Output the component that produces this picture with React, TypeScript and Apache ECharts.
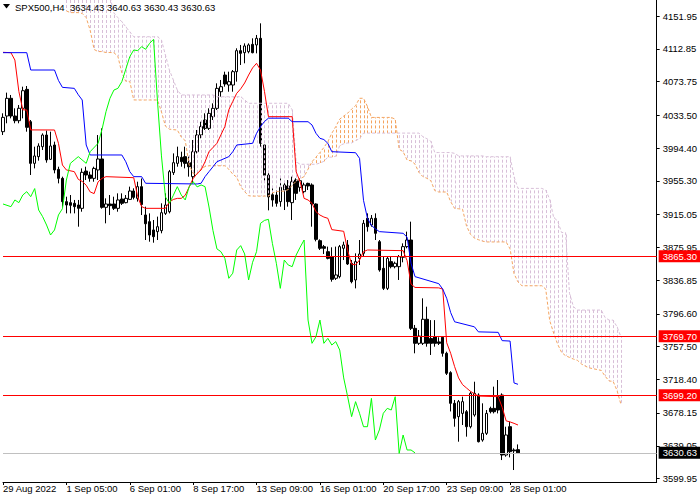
import React, { useEffect, useRef } from "react";
import * as echarts from "echarts";

const SYMBOL = "SPX500,H4";
const SLOT_COUNT = 166;
const TICK_INDEX = [0, 16, 32, 48, 64, 80, 96, 112, 128];
const TICK_LABELS = ["29 Aug 2022", "1 Sep 05:00", "6 Sep 01:00", "8 Sep 17:00", "13 Sep 09:00", "16 Sep 01:00", "20 Sep 17:00", "23 Sep 09:00", "28 Sep 01:00"];
const PRICE_TICKS = [4151.95, 4112.85, 4073.75, 4033.5, 3994.4, 3955.3, 3915.05, 3875.95, 3836.85, 3796.6, 3757.5, 3718.4, 3678.15, 3639.05, 3599.95];
const PRICE_MIN = 3595.8;
const PRICE_MAX = 4171.05;
const RED_LEVELS = [3865.3, 3769.7, 3699.2];
const BID = 3630.63;

// [open, high, low, close]
const candles: number[][] = [
  [4013.9, 4035.8, 4009.9, 4031.0], [4032.6, 4060.5, 4023.9, 4053.7], [4053.7, 4057.7, 4029.8, 4032.6], [4032.6, 4041.8, 4023.9, 4027.0],
  [4027.0, 4045.7, 4023.9, 4041.8], [4041.8, 4067.6, 4029.8, 4062.8], [4064.4, 4068.4, 4013.9, 4019.1], [4025.8, 4027.8, 3962.2, 3976.1],
  [3976.1, 3996.0, 3970.1, 3984.9], [3984.1, 4000.0, 3979.3, 3996.8], [3996.0, 4011.9, 3992.0, 4009.9], [4009.9, 4015.1, 3976.9, 3980.1],
  [3980.9, 4013.9, 3980.1, 3996.8], [3998.0, 4002.0, 3964.2, 3968.2], [3968.9, 3972.1, 3952.2, 3958.2], [3958.2, 3960.2, 3924.4, 3930.4],
  [3930.4, 3936.3, 3916.4, 3926.4], [3929.2, 3938.3, 3916.4, 3926.0], [3928.4, 3932.4, 3916.4, 3924.4], [3926.4, 3932.4, 3900.5, 3922.4],
  [3922.4, 3970.1, 3918.4, 3965.4], [3966.9, 3972.1, 3956.2, 3962.2], [3962.2, 3966.2, 3954.2, 3958.2], [3958.2, 3972.1, 3954.2, 3970.1],
  [3968.2, 4009.9, 3956.2, 3981.3], [3981.3, 4017.9, 3922.0, 3923.6], [3923.6, 3934.3, 3904.5, 3927.6], [3927.6, 3938.3, 3914.4, 3925.6],
  [3927.6, 3936.3, 3920.4, 3922.4], [3922.4, 3940.3, 3918.4, 3932.4], [3933.5, 3940.3, 3926.4, 3928.4], [3929.2, 3938.3, 3928.4, 3934.3],
  [3933.1, 3948.3, 3932.4, 3943.1], [3943.1, 3946.3, 3933.1, 3935.5], [3934.3, 3954.2, 3930.4, 3948.3], [3948.3, 3958.0, 3914.4, 3927.0],
  [3914.5, 3924.4, 3884.6, 3904.0], [3906.5, 3916.4, 3882.6, 3890.6], [3896.6, 3908.5, 3881.4, 3888.6], [3894.6, 3912.5, 3884.6, 3900.5],
  [3895.8, 3928.4, 3892.6, 3917.2], [3916.4, 3940.3, 3914.5, 3926.4], [3918.4, 3968.2, 3916.4, 3966.2], [3965.0, 3988.0, 3962.2, 3976.9],
  [3976.1, 3996.0, 3972.1, 3984.1], [3983.3, 3990.0, 3972.1, 3978.1], [3984.1, 3996.0, 3970.1, 3976.1], [3976.9, 3984.1, 3960.2, 3972.1],
  [3960.2, 4004.0, 3952.2, 3990.0], [3990.0, 4015.9, 3988.0, 4009.9], [4010.0, 4025.8, 4006.0, 4020.0], [4027.8, 4035.8, 4015.9, 4017.9],
  [4017.9, 4041.8, 4015.9, 4035.8], [4031.8, 4047.7, 4027.8, 4041.8], [4041.8, 4071.6, 4039.8, 4065.6], [4061.6, 4075.6, 4055.7, 4067.6],
  [4081.5, 4085.5, 4067.6, 4070.8], [4069.6, 4085.5, 4061.6, 4073.6], [4069.6, 4087.5, 4061.6, 4085.5], [4085.5, 4113.4, 4073.6, 4110.6],
  [4110.6, 4117.4, 4093.5, 4107.4], [4108.2, 4119.3, 4095.5, 4116.2], [4109.4, 4119.3, 4107.4, 4117.4], [4118.1, 4125.3, 4107.4, 4108.2],
  [4117.4, 4129.3, 4107.4, 4125.3], [4125.3, 4143.2, 3996.0, 4000.0], [3998.0, 3998.0, 3955.0, 3962.0], [3962.0, 3966.0, 3920.0, 3936.0],
  [3938.6, 3946.3, 3924.4, 3932.3], [3938.3, 3944.3, 3924.4, 3928.4], [3930.4, 3958.2, 3924.4, 3947.5], [3944.3, 3954.2, 3920.4, 3950.3],
  [3949.1, 3956.2, 3924.4, 3930.4], [3929.2, 3960.2, 3908.5, 3954.2], [3956.2, 3958.2, 3932.4, 3940.3], [3947.5, 3958.2, 3942.3, 3955.4],
  [3942.3, 3953.0, 3940.3, 3950.3], [3952.2, 3953.0, 3944.3, 3949.1], [3950.3, 3952.2, 3900.5, 3927.6], [3927.6, 3928.4, 3883.0, 3885.4],
  [3883.8, 3885.4, 3872.7, 3874.7], [3876.7, 3878.7, 3867.9, 3874.7], [3870.7, 3876.7, 3861.5, 3862.7], [3864.7, 3875.9, 3834.9, 3837.7],
  [3838.9, 3876.7, 3836.9, 3842.9], [3840.9, 3878.7, 3838.9, 3876.7], [3874.7, 3882.6, 3860.7, 3878.7], [3878.7, 3884.6, 3854.8, 3856.0],
  [3856.8, 3860.7, 3832.9, 3834.9], [3836.9, 3868.7, 3826.9, 3858.8], [3862.7, 3884.6, 3854.8, 3867.9], [3868.7, 3908.5, 3864.7, 3904.5],
  [3910.5, 3916.4, 3894.6, 3900.5], [3902.5, 3914.4, 3900.5, 3910.5], [3910.5, 3916.4, 3884.6, 3892.6], [3882.6, 3884.6, 3846.8, 3848.8],
  [3850.8, 3864.7, 3824.9, 3826.9], [3826.9, 3864.7, 3824.9, 3862.7], [3858.8, 3864.7, 3850.8, 3852.8], [3852.8, 3858.8, 3850.8, 3856.8],
  [3852.8, 3866.7, 3836.9, 3864.7], [3864.0, 3880.6, 3858.0, 3876.7], [3876.7, 3894.6, 3874.7, 3884.6], [3884.6, 3906.5, 3777.2, 3779.2],
  [3779.2, 3783.2, 3749.4, 3761.3], [3761.3, 3777.2, 3759.3, 3770.0], [3761.3, 3815.0, 3759.3, 3790.0], [3790.0, 3805.0, 3757.3, 3761.3],
  [3767.0, 3789.0, 3747.4, 3761.3], [3769.0, 3789.0, 3757.3, 3761.3], [3763.0, 3768.5, 3759.3, 3761.3], [3768.5, 3769.3, 3745.4, 3749.4],
  [3749.4, 3751.3, 3723.5, 3725.5], [3726.3, 3728.0, 3680.0, 3689.7], [3689.7, 3693.7, 3661.8, 3671.8], [3673.8, 3693.7, 3643.9, 3691.7],
  [3677.7, 3697.6, 3663.8, 3691.7], [3679.7, 3681.7, 3649.9, 3661.8], [3661.8, 3703.6, 3659.8, 3701.6], [3675.8, 3715.5, 3673.8, 3701.6],
  [3699.6, 3701.6, 3643.0, 3643.9], [3645.9, 3689.7, 3643.9, 3653.9], [3653.9, 3681.7, 3651.9, 3677.7], [3683.7, 3685.7, 3677.7, 3679.7],
  [3683.7, 3709.6, 3677.7, 3679.7], [3697.6, 3717.5, 3677.7, 3681.7], [3699.6, 3701.6, 3622.0, 3628.0], [3628.0, 3661.8, 3626.0, 3651.9],
  [3661.8, 3667.8, 3625.2, 3632.0], [3634.0, 3636.0, 3610.1, 3633.0], [3634.43, 3640.63, 3630.43, 3630.63],
];

// Tenkan-sen (red) vertices [bar, price]
const tenkan: number[][] = [
  [0, 4108.6], [2, 4108.2], [3, 4099.4], [4, 4062], [5, 4040], [6, 4039.8], [7, 4016], [13, 4015.9], [14, 4000], [15, 3974.1],
  [16, 3968.2], [18, 3966.2], [19, 3957], [20, 3954.5], [21, 3950], [22, 3942], [23, 3940], [24, 3954], [25, 3958.2], [26, 3960.2],
  [33, 3959], [34, 3936.3], [35, 3924.4], [36, 3922.4], [41, 3922.4], [42, 3930], [43, 3933], [44, 3934.3], [45, 3934.3], [46, 3938],
  [47, 3948], [48, 3958], [49, 3964], [50, 3968.2], [51, 3978], [52, 3990], [53, 3995], [54, 4000], [55, 4010], [56, 4020],
  [57, 4040], [58, 4050], [59, 4059.7], [60, 4065], [61, 4072], [62, 4081.5], [63, 4090], [64, 4095.5], [65, 4087.5], [66, 4062],
  [67, 4031.8], [73, 4031.8], [74, 3966], [75, 3954.2], [76, 3934.3], [77, 3932.4], [78, 3928.4], [79, 3918.4], [80, 3914.4], [81, 3912],
  [82, 3910.5], [83, 3897], [86, 3895], [87, 3872], [88, 3855.8], [89, 3855], [90, 3860.7], [91, 3870.7], [92, 3872.7], [101, 3871.9],
  [102, 3860], [103, 3832], [104, 3828], [110, 3827.5], [111, 3826], [112, 3762], [113, 3749.4], [114, 3733.5], [115, 3720], [116, 3712],
  [117, 3708], [118, 3704], [119, 3701], [120, 3698.4], [125, 3697.6], [126, 3685], [127, 3668.8], [128, 3667.5], [129, 3665.8], [130, 3663.8],
];

// Kijun-sen (blue) vertices [bar, price]
const kijun: number[][] = [
  [0, 4108.2], [6, 4108.2], [7, 4087.5], [13, 4087.5], [14, 4075], [15, 4066.8], [18, 4065.6], [19, 4058], [20, 4051.7], [21, 3998],
  [22, 3986.1], [30, 3986.1], [31, 3978], [32, 3966.2], [33, 3960.2], [35, 3960.2], [36, 3952.3], [49, 3951.5], [50, 3952.3], [51, 3960.2],
  [52, 3966.2], [53, 3972], [54, 3978.1], [55, 3980], [57, 3984.1], [58, 3990], [59, 3998], [63, 4000], [64, 4011.9], [65, 4020],
  [66, 4026], [67, 4030], [72, 4030], [73, 4025.8], [77, 4025.8], [78, 4021.9], [79, 4012], [80, 4006], [81, 4004.5], [82, 4000],
  [83, 3990], [89, 3988.8], [90, 3982.1], [91, 3932], [92, 3910.5], [93, 3902], [94, 3898], [95, 3894.6], [101, 3892.6], [102, 3888],
  [103, 3856.8], [104, 3840.9], [110, 3832.5], [111, 3826], [112, 3815], [113, 3798], [114, 3787], [119, 3781], [120, 3775], [125, 3774.4],
  [126, 3764.5], [128, 3764], [129, 3714], [130, 3712.4],
];

// Chikou span (green) vertices [bar, price]
const chikou: number[][] = [
  [0, 3927.6], [2, 3924.4], [3, 3932.4], [4, 3929.2], [5, 3938.3], [6, 3942.3], [7, 3936.3], [8, 3946], [9, 3920.4], [10, 3912.5],
  [11, 3902.5], [12, 3890.6], [13, 3896.6], [14, 3914.5], [15, 3922], [16, 3956.2], [17, 3976.1], [18, 3980.1], [19, 3984.1], [21, 3976.1],
  [22, 3990], [24, 4000], [25, 4016.7], [26, 4037.8], [27, 4053.7], [28, 4063.6], [29, 4065.6], [30, 4073.6], [32, 4103.4], [33, 4111.4],
  [34, 4110.6], [35, 4115.4], [36, 4112.2], [37, 4119.3], [38, 4124.1], [39, 4050], [40, 3985], [41, 3936], [42, 3928.4], [43, 3938],
  [44, 3948.3], [45, 3938.3], [46, 3932.4], [47, 3948.3], [48, 3954.2], [49, 3948], [50, 3950.3], [51, 3948.3], [52, 3924], [53, 3896],
  [54, 3874], [55, 3870.7], [56, 3862.7], [57, 3838.9], [58, 3845], [59, 3872.7], [60, 3877.9], [61, 3868], [62, 3836.9], [63, 3858],
  [64, 3870.7], [65, 3904.5], [66, 3908], [67, 3909.3], [68, 3880.6], [69, 3856.8], [70, 3826.9], [71, 3860.7], [72, 3854.8], [73, 3852.8],
  [74, 3866.7], [75, 3876], [76, 3884.6], [77, 3789.1], [78, 3761.3], [79, 3769.2], [80, 3789.1], [81, 3761.3], [82, 3767.3], [83, 3759.3],
  [84, 3763.3], [85, 3753.3], [86, 3720], [87, 3697.6], [88, 3673.8], [89, 3691.7], [90, 3677.8], [91, 3661.8], [92, 3661.8], [93, 3695.6],
  [94, 3645.9], [95, 3657.9], [96, 3677.8], [97, 3683.7], [98, 3681.7], [99, 3697.6], [100, 3630], [101, 3651.9], [102, 3634], [103, 3634],
  [104, 3630.63],
];

// Senkou spans, one value per bar starting at CLOUD_START
const CLOUD_START = 16;
const senkouA = [
  4158, 4156, 4156, 4156, 4155, 4150, 4135, 4112, 4109.5, 4109.5,
  4108.4, 4108.4, 4108.2, 4103.8, 4084, 4074, 4074, 4051.8, 4051.7, 4051.7,
  4051.7, 4051.7, 4051.7, 4051.7, 4037.5, 4020.5, 4016.9, 4016.3, 4015.9, 4007.5,
  4003.1, 3974, 3964, 3963, 3970, 3972.2, 3973.2, 3973.2, 3973.2, 3973.2,
  3973.2, 3969.1, 3963.2, 3959.6, 3948.3, 3942.3, 3937.4, 3937, 3937, 3937,
  3937, 3937, 3940.8, 3942.3, 3942.9, 3942.9, 3944.8, 3949.8, 3954.8, 3957.8,
  3960.3, 3969.1, 3978.1, 3983.5, 3989.1, 3995, 4002, 4012, 4020, 4028.9,
  4032.5, 4036, 4040.8, 4045, 4053.7, 4053.8, 4044, 4030.9, 4030.9, 4030.9,
  4030.9, 4030.9, 4030.9, 4028.8, 3992.9, 3990, 3980, 3979.1, 3975.2, 3965.2,
  3960.2, 3958.3, 3955.3, 3943.5, 3941.9, 3941.9, 3941.9, 3930.4, 3922.3, 3921.9,
  3921.4, 3901.4, 3891.4, 3887, 3885, 3883.3, 3882.3, 3882.3, 3882.3, 3882.3,
  3882.3, 3882.3, 3874, 3844.4, 3834.5, 3830, 3830, 3830, 3830, 3830,
  3830, 3826, 3788.5, 3773.5, 3760.3, 3750.5, 3746.5, 3744.5, 3742.5, 3741,
  3736.7, 3734, 3732, 3731, 3730, 3729, 3722, 3716.3, 3716, 3705,
  3688.1,
];
const senkouB = [
  4185, 4185, 4185, 4185, 4185, 4185, 4185, 4185, 4185, 4185,
  4185, 4175, 4155.5, 4150, 4145, 4139, 4133, 4127.2, 4127.2, 4127.2,
  4127.2, 4127.2, 4127.2, 4127.2, 4123.3, 4105.4, 4087.5, 4075.6, 4063.6, 4057.7,
  4057.7, 4057.7, 4057.7, 4057.7, 4057.7, 4057.7, 4057.7, 4057.7, 4055.6, 4055.6,
  4055.6, 4055.6, 4055.6, 4055.6, 4055.6, 4051.7, 4047.8, 4047.8, 4047.8, 4047.8,
  4047.8, 4047.8, 4047.8, 4047.8, 4047.8, 4047.8, 4047.8, 4040, 3978, 3975,
  3975, 3975, 3975, 3975, 3976.5, 3978.5, 3983.5, 3983.5, 3984.5, 3997.4,
  3999.4, 4000.4, 4000.4, 4003.4, 4005.4, 4012.2, 4012.2, 4012.2, 4012.2, 4012.2,
  4012.2, 4012.2, 4012.2, 4012.2, 4012.2, 4012.2, 4012.2, 4012.2, 4012.2, 4012.2,
  4007.9, 4005.5, 4002.3, 3989, 3989, 3989, 3989, 3989, 3988, 3985,
  3985, 3985, 3985, 3985, 3985, 3985, 3984, 3984, 3984, 3984,
  3984, 3984, 3984, 3960, 3946.2, 3946.2, 3946.2, 3946.2, 3946.2, 3946.2,
  3946.2, 3944.2, 3933.3, 3911.5, 3907.4, 3893.5, 3893.5, 3821, 3805, 3801,
  3801, 3801, 3801, 3801, 3801, 3801, 3792, 3789, 3789, 3781,
  3769,
];

const FONT_FAMILY = '"Liberation Sans", Arial, sans-serif';
const FONT_SIZE = 9.5;

function buildOption() {
  const categories = Array.from({ length: SLOT_COUNT }, (_, i) => String(i));
  const isTick = (index: number) => TICK_INDEX.indexOf(index) >= 0;
  const candleData = candles.map(([o, h, l, c]) => [o, c, l, h]);
  const cloudData = senkouA.map((a, k) => [k + CLOUD_START, a, senkouB[k]]);
  const spanA = senkouA.map((a, k) => [k + CLOUD_START, a]);
  const spanB = senkouB.map((b, k) => [k + CLOUD_START, b]);
  const last = candles[candles.length - 1];
  const header = SYMBOL + "\u00a0 " + last.map((v) => v.toFixed(2)).join(" ");

  const lineBase = {
    type: "line" as const,
    showSymbol: false,
    symbol: "none",
    silent: true,
    clip: true,
  };

  const markLabel = (bg: string) => ({
    show: true,
    position: "end",
    distance: 2,
    formatter: (p: any) => Number(p.value).toFixed(2),
    color: "#fff",
    backgroundColor: bg,
    padding: [1, 4, 0, 4],
    lineHeight: 11,
    fontFamily: FONT_FAMILY,
    fontSize: FONT_SIZE,
  });

  return {
    animation: false,
    backgroundColor: "#ffffff",
    grid: { left: 0, top: 0, width: 660, height: 482, containLabel: false },
    xAxis: {
      type: "category",
      data: categories,
      boundaryGap: false,
      axisLine: { show: true, lineStyle: { color: "#000", width: 1 } },
      axisTick: { show: true, length: 3, interval: (index: number) => isTick(index), lineStyle: { color: "#000" } },
      axisLabel: {
        show: true,
        interval: (index: number) => isTick(index),
        formatter: (value: string) => {
          const k = TICK_INDEX.indexOf(Number(value));
          return k >= 0 ? TICK_LABELS[k] : "";
        },
        align: "left",
        margin: 1,
        color: "#000",
        fontFamily: FONT_FAMILY,
        fontSize: FONT_SIZE,
      },
      splitLine: { show: false },
    },
    yAxis: {
      type: "value",
      position: "right",
      min: PRICE_MIN,
      max: PRICE_MAX,
      scale: true,
      axisLine: { show: true, lineStyle: { color: "#000", width: 1 } },
      axisTick: { show: true, length: 3, customValues: PRICE_TICKS, lineStyle: { color: "#000" } },
      axisLabel: {
        show: true,
        customValues: PRICE_TICKS,
        formatter: (v: number) => v.toFixed(2),
        margin: 6,
        color: "#000",
        fontFamily: FONT_FAMILY,
        fontSize: FONT_SIZE,
      },
      splitLine: { show: false },
    },
    graphic: [
      { type: "polygon", z: 100, shape: { points: [[3, 4], [10, 4], [6.5, 8.5]] }, style: { fill: "#000" } },
      {
        type: "text",
        z: 100,
        left: 15,
        top: 2,
        style: { text: header, fill: "#000", font: `${FONT_SIZE}px ${FONT_FAMILY}` },
      },
    ],
    series: [
      {
        type: "candlestick",
        z: 1,
        barWidth: 3,
        silent: true,
        clip: true,
        data: candleData,
        itemStyle: { color: "#ffffff", color0: "#000000", borderColor: "#000000", borderColor0: "#000000", borderWidth: 1 },
      },
      {
        type: "custom",
        z: 2,
        silent: true,
        clip: true,
        encode: { x: 0, y: [1, 2] },
        data: cloudData,
        renderItem: (params: any, api: any) => {
          const j = api.value(0);
          const a = api.value(1);
          const b = api.value(2);
          const cs = params.coordSys;
          const pa = api.coord([j, a]);
          const pb = api.coord([j, b]);
          const y1 = Math.max(Math.min(pa[1], pb[1]), cs.y);
          const y2 = Math.min(Math.max(pa[1], pb[1]), cs.y + cs.height);
          if (y2 <= y1) return null;
          const x = Math.round(pa[0]) + 0.5;
          return {
            type: "line",
            shape: { x1: x, y1, x2: x, y2 },
            style: { stroke: a > b ? "#F4A460" : "#D8BFD8", lineWidth: 1, lineDash: [3, 2], lineDashOffset: y1 % 5 },
          };
        },
      },
      { ...lineBase, z: 3, data: spanB, lineStyle: { color: "#D8BFD8", width: 1, type: [3, 2] } },
      { ...lineBase, z: 3, data: spanA, lineStyle: { color: "#F4A460", width: 1, type: [3, 2] } },
      { ...lineBase, z: 4, data: tenkan, lineStyle: { color: "#FF0000", width: 1 } },
      { ...lineBase, z: 4, data: kijun, lineStyle: { color: "#0000FF", width: 1 } },
      {
        ...lineBase,
        z: 5,
        data: chikou,
        lineStyle: { color: "#00FF00", width: 1 },
        markLine: {
          silent: true,
          symbol: "none",
          animation: false,
          data: [
            ...RED_LEVELS.map((v) => ({ yAxis: v, lineStyle: { color: "#FF0000", width: 1, type: "solid" }, label: markLabel("#FF0000") })),
            { yAxis: BID, lineStyle: { color: "#C0C0C0", width: 1, type: "solid" }, label: markLabel("#000000") },
          ],
        },
      },
    ],
  };
}

export default function App() {
  const ref = useRef<HTMLDivElement>(null);
  useEffect(() => {
    if (!ref.current) return;
    const chart = echarts.init(ref.current, null, { renderer: "svg" });
    chart.setOption(buildOption() as any);
    return () => chart.dispose();
  }, []);
  return (
    <div
      ref={ref}
      style={{ position: "absolute", left: 0, top: 0, width: 700, height: 500, background: "#ffffff" }}
    />
  );
}
